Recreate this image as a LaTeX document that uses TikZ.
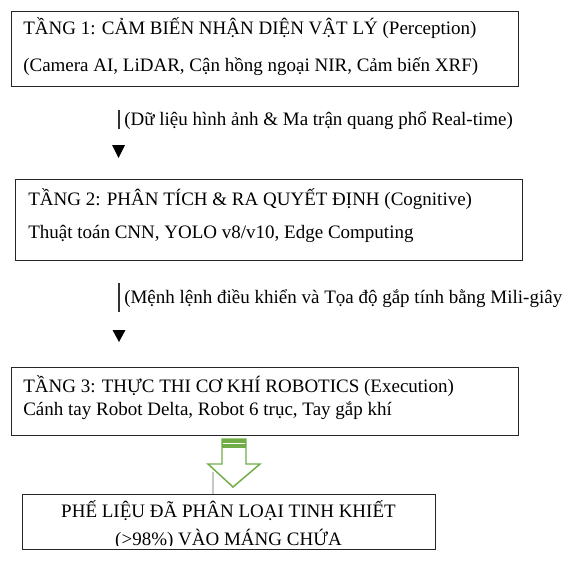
\documentclass[tikz,border=0pt]{standalone}
\usepackage{fontspec}
\setmainfont{Liberation Serif}
\definecolor{arrowgreen}{RGB}{112,173,71}
\tikzset{
  layerbox/.style={draw=black!85, line width=0.75pt, inner sep=0pt, anchor=north west},
  txt/.style={anchor=base west, inner sep=0pt, font=\fontsize{14.25pt}{16pt}\selectfont},
  bar/.style={line width=1.1pt, black!80},
}
\begin{document}
\begin{tikzpicture}[x=0.75pt, y=-0.75pt]
  \useasboundingbox (0,0) rectangle (581,567);
  % tang 1
  \node[layerbox, minimum width=380.25pt, minimum height=56.25pt] (t1) at (11,11) {};
  \node[txt] (t1a) at (23,35) {TẦNG 1: CẢM BIẾN NHẬN DIỆN VẬT LÝ (Perception)};
  \node[txt] (t1b) at (23,72) {(Camera AI, LiDAR, Cận hồng ngoại NIR, Cảm biến XRF)};
  \coordinate (b1s) at (119,110); \coordinate (b1e) at (119,129);
  \draw[bar] (b1s) -- (b1e);
  \node[txt] (l1) at (124,125) {(Dữ liệu hình ảnh \& Ma trận quang phổ Real-time)};
  \coordinate (v1) at (118.5,158);
  \fill (v1) -- ++(-6.5,-13) -- ++(13,0) -- cycle;
  % tang 2
  \node[layerbox, minimum width=380.25pt, minimum height=60.75pt] (t2) at (15,179) {};
  \node[txt] (t2a) at (28,205) {TẦNG 2: PHÂN TÍCH \& RA QUYẾT ĐỊNH (Cognitive)};
  \node[txt] (t2b) at (28,238) {Thuật toán CNN, YOLO v8/v10, Edge Computing};
  \coordinate (b2s) at (119,283); \coordinate (b2e) at (119,312);
  \draw[bar] (b2s) -- (b2e);
  \node[txt] (l2) at (124,303) {(Mệnh lệnh điều khiển và Tọa độ gắp tính bằng Mili-giây};
  \coordinate (v2) at (119,342);
  \fill (v2) -- ++(-6.5,-12) -- ++(13,0) -- cycle;
  % tang 3
  \node[layerbox, minimum width=380.25pt, minimum height=51pt] (t3) at (11,367) {};
  \node[txt] (t3a) at (23,392) {TẦNG 3: THỰC THI CƠ KHÍ ROBOTICS (Execution)};
  \node[txt] (t3b) at (23,415) {Cánh tay Robot Delta, Robot 6 trục, Tay gắp khí};
  % block arrow
  \draw[arrowgreen, line width=1.1pt, line join=miter]
    (222,439) -- (246,439) -- (246,464) -- (260,464) -- (233,487)
    -- (208,464) -- (222,464) -- cycle;
  \fill[arrowgreen] (222,439) rectangle (246,448);
  \draw[white, line width=0.6pt] (223,443.5) -- (245,443.5);
  \coordinate (g1) at (213,472); \coordinate (g2) at (213,494);
  \draw[black!22, line width=0.9pt] (g1) -- (g2);
  % ket qua
  \node[layerbox, minimum width=309.75pt, minimum height=41.25pt] (t4) at (22,494) {};
  \begin{scope}
    \clip (22,494) rectangle (435,545);
    \node[txt, anchor=base] (t4a) at (228.5,517) {PHẾ LIỆU ĐÃ PHÂN LOẠI TINH KHIẾT};
    \node[txt, anchor=base] (t4b) at (228.5,545.5) {(>98\%) VÀO MÁNG CHỨA};
  \end{scope}
\end{tikzpicture}
\end{document}
